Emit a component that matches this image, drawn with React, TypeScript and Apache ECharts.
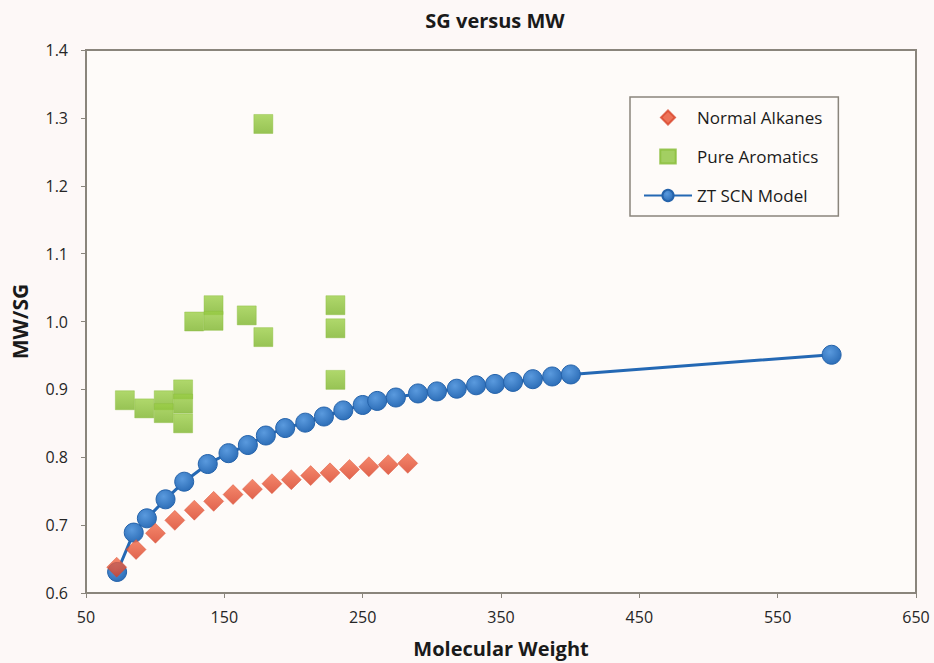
import React, { useEffect, useRef } from "react";
import * as echarts from "echarts";

const alkaneMW = [72.2, 86.2, 100.2, 114.2, 128.3, 142.3, 156.3, 170.3, 184.4, 198.4, 212.4, 226.4, 240.5, 254.5, 268.5, 282.6];
const alkaneSG = [0.638, 0.664, 0.688, 0.707, 0.722, 0.735, 0.745, 0.753, 0.761, 0.767, 0.773, 0.777, 0.782, 0.786, 0.789, 0.791];

const aromaticMW = [78.1, 92.1, 106.2, 106.2, 120.2, 120.2, 120.2, 128.2, 142.2, 142.2, 166.2, 178.2, 178.2, 230.3, 230.3, 230.3];
const aromaticSG = [0.884, 0.872, 0.884, 0.865, 0.900, 0.879, 0.850, 1.000, 1.024, 1.001, 1.009, 0.977, 1.291, 1.024, 0.990, 0.914];

const modelMW = [72.5, 84.5, 94, 107.5, 121, 138, 153, 167, 180, 194, 208.5, 222, 236, 250, 260.5, 274, 290, 303.7, 318, 332, 345.7, 358.7, 373, 387, 400.5, 589];
const modelSG = [0.631, 0.689, 0.710, 0.738, 0.764, 0.790, 0.806, 0.818, 0.832, 0.843, 0.851, 0.860, 0.869, 0.877, 0.883, 0.888, 0.894, 0.897, 0.901, 0.906, 0.908, 0.911, 0.915, 0.919, 0.922, 0.951];

const xTicks = [50, 650, 100];
const yTicks = [0.6, 1.4, 0.1];

const FONT = "'Open Sans', 'Noto Sans', sans-serif";
const AXIS = "#8a857c";

export default function App() {
  const ref = useRef<HTMLDivElement>(null);
  useEffect(() => {
    document.body.style.margin = "0";
    document.body.style.background = "#fdf8f7";
    const chart = echarts.init(ref.current!, undefined, { renderer: "svg" });
    const zip = (a: number[], b: number[]) => a.map((v, i) => [v, b[i]]);
    chart.setOption({
      animation: false,
      backgroundColor: "#fdf8f7",
      title: {
        text: "SG versus MW",
        left: 490,
        textAlign: "center",
        top: 5,
        textStyle: { fontFamily: FONT, fontSize: 20, fontWeight: "bold", color: "#1a1a1a" },
      },
      grid: {
        left: 86,
        right: 18,
        top: 50,
        bottom: 70,
        show: true,
        borderColor: AXIS,
        borderWidth: 2,
        backgroundColor: "#fefbf9",
      },
      legend: {
        orient: "vertical",
        left: 630,
        top: 97,
        padding: [12, 16, 12, 13],
        itemWidth: 48,
        itemHeight: 14,
        itemGap: 22,
        symbolKeepAspect: true,
        borderColor: AXIS,
        borderWidth: 1.5,
        backgroundColor: "#fefbf9",
        textStyle: { fontFamily: FONT, fontSize: 17, color: "#1a1a1a" },
        data: [
          { name: "Normal Alkanes", icon: "path://M0,-1L1,0L0,1L-1,0Z", itemStyle: { color: "#e8502f" } },
          { name: "Pure Aromatics", icon: "path://M-1,-0.9L1,-0.9L1,0.9L-1,0.9Z", itemStyle: { color: "#8cc43c" } },
          { name: "ZT SCN Model" },
        ],
      },
      xAxis: {
        type: "value",
        min: xTicks[0],
        max: xTicks[1],
        interval: xTicks[2],
        name: "Molecular Weight",
        nameLocation: "middle",
        nameGap: 45,
        nameTextStyle: { fontFamily: FONT, fontSize: 20, fontWeight: "bold", color: "#1a1a1a" },
        axisLine: { show: true, lineStyle: { color: AXIS, width: 2 } },
        axisTick: { show: true, inside: false, length: 5, lineStyle: { color: AXIS } },
        axisLabel: { fontFamily: FONT, fontSize: 16, color: "#262626", margin: 16 },
        splitLine: { show: false },
      },
      yAxis: {
        type: "value",
        min: yTicks[0],
        max: yTicks[1],
        interval: yTicks[2],
        name: "MW/SG",
        nameLocation: "middle",
        nameGap: 56,
        nameTextStyle: { fontFamily: FONT, fontSize: 21, fontWeight: "bold", color: "#1a1a1a" },
        axisLine: { show: true, lineStyle: { color: AXIS, width: 2 } },
        axisTick: { show: true, inside: false, length: 5, lineStyle: { color: AXIS } },
        axisLabel: {
          fontFamily: FONT,
          fontSize: 16,
          color: "#262626",
          margin: 18,
          formatter: (v: number) => v.toFixed(1),
        },
        splitLine: { show: false },
      },
      series: [
        {
          name: "Normal Alkanes",
          type: "scatter",
          symbol: "diamond",
          symbolSize: 20,
          z: 4,
          data: zip(alkaneMW, alkaneSG),
          itemStyle: {
            color: new echarts.graphic.LinearGradient(0, 0, 0, 1, [
              { offset: 0, color: "#f26a48" },
              { offset: 1, color: "#d93d22" },
            ]),
            borderColor: "#d8452a",
            borderWidth: 0.5,
          },
        },
        {
          name: "Pure Aromatics",
          type: "scatter",
          symbol: "rect",
          symbolSize: 19,
          z: 3,
          data: zip(aromaticMW, aromaticSG),
          itemStyle: {
            color: new echarts.graphic.LinearGradient(0, 0, 0, 1, [
              { offset: 0, color: "#9ccf48" },
              { offset: 1, color: "#7db52b" },
            ]),
            borderColor: "#86bb36",
            borderWidth: 0.5,
          },
        },
        {
          name: "ZT SCN Model",
          type: "line",
          symbol: "circle",
          symbolSize: 19,
          showSymbol: true,
          z: 2,
          data: zip(modelMW, modelSG),
          lineStyle: { color: "#2468b4", width: 3 },
          itemStyle: {
            color: new echarts.graphic.RadialGradient(0.4, 0.35, 0.7, [
              { offset: 0, color: "#5a9ade" },
              { offset: 1, color: "#2b6cb6" },
            ]),
            borderColor: "#2563ab",
            borderWidth: 1,
          },
        },
      ],
    });
    return () => chart.dispose();
  }, []);
  return <div ref={ref} style={{ width: 934, height: 663 }} />;
}
